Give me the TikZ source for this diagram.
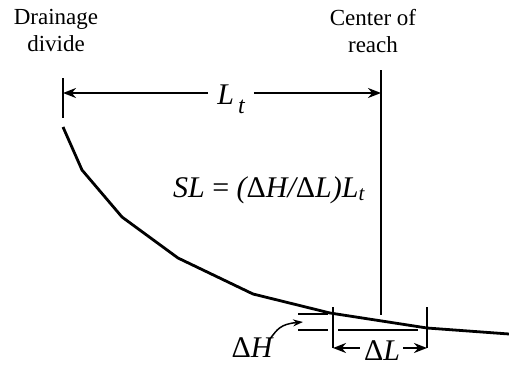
\documentclass[tikz,border=0pt]{standalone}
\usepackage{fontspec}
\setmainfont{Liberation Serif}
\usetikzlibrary{arrows.meta}

\begin{document}
\begin{tikzpicture}[x=1pt,y=-1pt,
    lbl/.style={font=\fontsize{23}{27}\selectfont, align=center, inner sep=0pt},
    sym/.style={font=\fontsize{30}{34}\selectfont\itshape, inner sep=0pt},
    dim/.style={line width=2pt},
    arr/.style={dim,-{Stealth[length=13pt,width=10pt]}}]
    \useasboundingbox (0,0) rectangle (509,367);

    % divide and center of reach
    \coordinate (D1) at (63,78);
    \coordinate (D2) at (63,118);
    \coordinate (R1) at (381,70);
    \coordinate (R2) at (381,315);
    \coordinate (lineY) at (0,93);
    \draw[dim] (D1) -- (D2);
    \draw[dim] (R1) -- (R2);
    \node[lbl] (divide) at (56,30) {Drainage\\divide};
    \node[lbl] (reach) at (373,31) {Center of\\reach};

    \node[sym] (Lt) at (231,99) {L\hspace{4pt}\raisebox{-9pt}{\fontsize{24}{24}\selectfont t}};
    \draw[arr] ([xshift=-9pt]Lt.west |- lineY) -- (D1 |- lineY);
    \draw[arr] ([xshift=9pt]Lt.east |- lineY) -- (R1 |- lineY);

    \node[sym] (slope) at (269,190) {SL {\upshape =} ({\upshape Δ}H/{\upshape Δ}L)L\textsubscript{t}};

    % longitudinal profile
    \draw[line width=2.8pt, line join=round]
        (63,127) -- (82,170) -- (122,217) -- (178,258) -- (253,294)
        -- (330,313) -- (427,328) -- (509,334);

    % reach length
    \coordinate (A1) at (333,307);
    \coordinate (A2) at (333,348);
    \coordinate (B1) at (427,307);
    \coordinate (B2) at (427,348);
    \draw[dim] (A1) -- (A2);
    \draw[dim] (B1) -- (B2);
    \node[sym] (dL) at (382,351) {{\upshape Δ}L};
    \draw[arr] ([xshift=-4pt]dL.west |- A2) -- (A2);
    \draw[arr] ([xshift=3pt]dL.east |- B2) -- (B2);

    % fall over the reach
    \coordinate (H1) at (298,314);
    \coordinate (H2) at (328,314);
    \coordinate (H3) at (298,330);
    \coordinate (H4) at (328,330);
    \coordinate (H5) at (338,330);
    \coordinate (H6) at (418,330);
    \draw[line width=1.6pt] (H1) -- (H2);
    \draw[line width=1.6pt] (H3) -- (H4);
    \draw[line width=1.6pt] (H5) -- (H6);
    \node[sym] (dH) at (252,348) {{\upshape Δ}H};
    \coordinate (Htip) at (303,322);
    \draw[line width=1.5pt,-{Stealth[length=10pt,width=7pt]}]
        ([xshift=-2pt]dH.north east) .. controls (277,330) and (280,324) .. (Htip);
\end{tikzpicture}
\end{document}
